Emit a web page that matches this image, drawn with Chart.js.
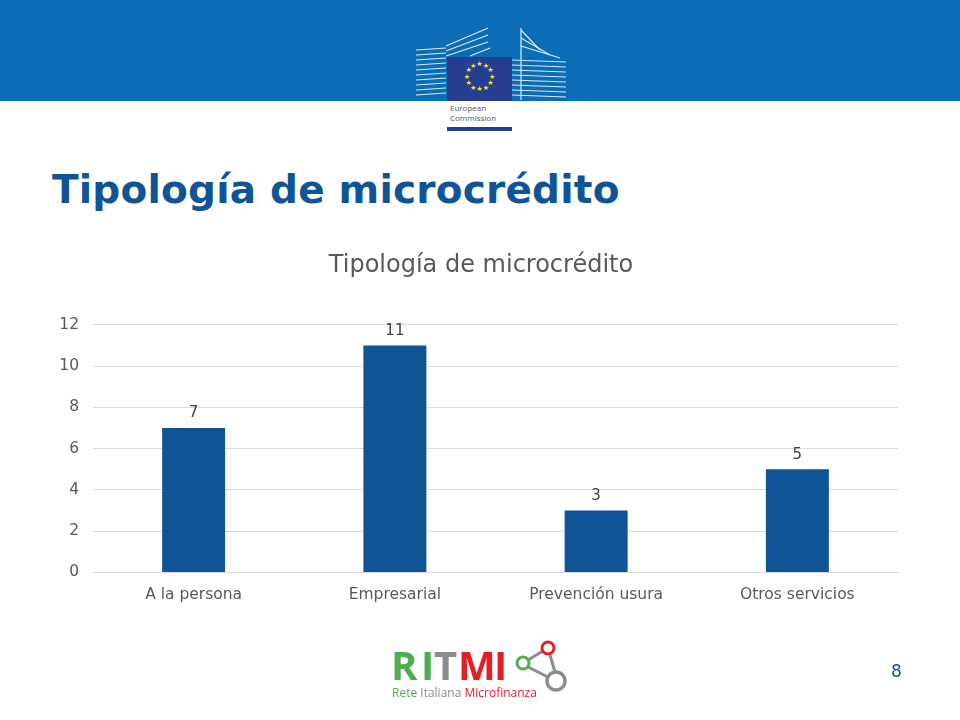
<!DOCTYPE html>
<html>
<head>
<meta charset="utf-8">
<script src="https://cdn.jsdelivr.net/npm/chart.js@4.4.1/dist/chart.umd.min.js"></script>
<style>
    html, body { margin: 0; padding: 0; background: #fff; }
    body { width: 960px; height: 720px; position: relative; overflow: hidden; font-family: "DejaVu Sans", Verdana, sans-serif; }
    .band { position: absolute; left: 0; top: 0; width: 960px; height: 101px; background: #0a6db5; }
    .eu { position: absolute; left: 0; top: 0; }
    .slide-title { position: absolute; left: 52px; top: 167px; margin: 0; font-size: 39px; font-weight: bold; color: #0f5496; letter-spacing: 0.2px; }
    .chart-box { position: absolute; left: 40px; top: 238px; width: 882px; height: 380px; }
    .page-no { position: absolute; left: 891px; top: 661px; font-size: 17px; color: #0f5496; }
    .ritmi { position: absolute; left: 0; top: 0; }
</style>
</head>
<body>
<div class="band"></div>
<svg class="eu" width="960" height="140">
    <g stroke="#ffffff" stroke-width="1.2" opacity="0.85">
        <line x1="416" y1="50" x2="446" y2="48"/>
        <line x1="416" y1="55" x2="446" y2="53"/>
        <line x1="416" y1="60" x2="446" y2="58"/>
        <line x1="416" y1="65" x2="446" y2="63"/>
        <line x1="416" y1="70" x2="446" y2="68"/>
        <line x1="416" y1="75" x2="446" y2="73"/>
        <line x1="416" y1="80" x2="446" y2="78"/>
        <line x1="416" y1="85" x2="446" y2="83"/>
        <line x1="416" y1="90" x2="446" y2="88"/>
        <line x1="416" y1="95" x2="446" y2="93"/>
        <line x1="446" y1="46" x2="488" y2="28"/>
        <line x1="446" y1="51" x2="488" y2="35"/>
        <line x1="446" y1="56" x2="488" y2="42"/>
        <line x1="470" y1="56" x2="490" y2="48"/>
        <line x1="512" y1="60" x2="566" y2="62"/>
        <line x1="512" y1="65" x2="566" y2="67"/>
        <line x1="512" y1="70" x2="566" y2="72"/>
        <line x1="512" y1="75" x2="566" y2="77"/>
        <line x1="512" y1="80" x2="566" y2="82"/>
        <line x1="512" y1="85" x2="566" y2="87"/>
        <line x1="512" y1="90" x2="566" y2="92"/>
        <line x1="512" y1="95" x2="566" y2="97"/>
        <line x1="521" y1="28" x2="521" y2="100"/>
        <line x1="521" y1="30" x2="540" y2="50"/>
        <line x1="521" y1="38" x2="550" y2="55"/>
        <line x1="521" y1="46" x2="560" y2="58"/>
    </g>
    <rect x="447" y="57" width="65" height="44" fill="#253e92"/>
    <g fill="#ffed00" font-size="7" text-anchor="middle" font-family="DejaVu Sans">
        <text x="479.5" y="66">★</text>
        <text x="485.8" y="67.7">★</text>
        <text x="490.4" y="72.3">★</text>
        <text x="492.1" y="78.6">★</text>
        <text x="490.4" y="84.9">★</text>
        <text x="485.8" y="89.5">★</text>
        <text x="479.5" y="91.2">★</text>
        <text x="473.2" y="89.5">★</text>
        <text x="468.6" y="84.9">★</text>
        <text x="466.9" y="78.6">★</text>
        <text x="468.6" y="72.3">★</text>
        <text x="473.2" y="67.7">★</text>
    </g>
    <text x="450" y="111" font-size="8" fill="#555" font-family="Open Sans, DejaVu Sans">European</text>
    <text x="450" y="121" font-size="8" fill="#555" font-family="Open Sans, DejaVu Sans">Commission</text>
    <rect x="447" y="127" width="65" height="4" fill="#253e92"/>
</svg>

<h1 class="slide-title">Tipología de microcrédito</h1>

<div class="chart-box"><canvas id="chart"></canvas></div>

<svg class="ritmi" width="960" height="720" style="pointer-events:none">
    <g font-family="Open Sans, DejaVu Sans" font-weight="bold" font-size="40">
        <text x="391" y="680" fill="#4cae4f">R</text>
        <text x="421" y="680" fill="#4cae4f">I</text>
        <text x="434" y="680" fill="#8c8c8c">T</text>
        <text x="458" y="680" fill="#e31e24">M</text>
        <text x="494" y="680" fill="#e31e24">I</text>
    </g>
    <g font-family="Open Sans, DejaVu Sans" font-size="12">
        <text x="392" y="697"><tspan fill="#4cae4f">Rete </tspan><tspan fill="#8c8c8c">Italiana </tspan><tspan fill="#e31e24">Microfinanza</tspan></text>
    </g>
    <g stroke="#8c8c8c" stroke-width="3" fill="none">
        <line x1="528" y1="660" x2="543" y2="651"/>
        <line x1="550" y1="655" x2="555" y2="672"/>
        <line x1="528" y1="667" x2="548" y2="677"/>
    </g>
    <circle cx="523" cy="663" r="6" stroke="#4cae4f" stroke-width="3" fill="#fff"/>
    <circle cx="548" cy="648" r="6" stroke="#e31e24" stroke-width="3" fill="#fff"/>
    <circle cx="556" cy="681" r="9" stroke="#8c8c8c" stroke-width="3.5" fill="#fff"/>
</svg>

<div class="page-no">8</div>

<script>
const categories = ['A la persona', 'Empresarial', 'Prevención usura', 'Otros servicios'];
const values = [7, 11, 3, 5];
const chartTitle = 'Tipología de microcrédito';

const font = "'DejaVu Sans', Verdana, sans-serif";

// etiquetas de valor encima de cada barra
const barLabels = {
    id: 'barLabels',
    afterDatasetsDraw(chart) {
        const ctx = chart.ctx;
        const meta = chart.getDatasetMeta(0);
        ctx.save();
        ctx.font = '15px ' + font;
        ctx.fillStyle = '#404040';
        ctx.textAlign = 'center';
        ctx.textBaseline = 'bottom';
        meta.data.forEach((bar, i) => {
            ctx.fillText(String(values[i]), bar.x, bar.y - 7);
        });
        ctx.restore();
    }
};

new Chart(document.getElementById('chart'), {
    type: 'bar',
    data: {
        labels: categories,
        datasets: [{
            data: values,
            backgroundColor: '#0f5496',
            categoryPercentage: 1,
            barPercentage: 0.313
        }]
    },
    options: {
        responsive: true,
        maintainAspectRatio: false,
        animation: false,
        devicePixelRatio: 1,
        layout: { padding: { left: 0, right: 0, top: 0, bottom: 9 } },
        plugins: {
            legend: { display: false },
            tooltip: { enabled: false },
            title: {
                display: true,
                text: chartTitle,
                color: '#595959',
                font: { family: font, size: 24, weight: 'normal' },
                padding: { top: 13, bottom: 45 }
            }
        },
        scales: {
            x: {
                grid: { display: false },
                border: { display: true, color: '#d9d9d9' },
                ticks: {
                    color: '#595959',
                    font: { family: font, size: 15.5 },
                    padding: 5
                }
            },
            y: {
                min: 0,
                max: 12,
                afterFit: (axis) => { axis.width = 53; },
                ticks: {
                    stepSize: 2,
                    color: '#595959',
                    font: { family: font, size: 15.5 },
                    padding: 14
                },
                grid: { color: '#d9d9d9', drawTicks: false },
                border: { display: false }
            },
            // eje vacío a la derecha: solo reserva margen
            yRight: {
                position: 'right',
                min: 0,
                max: 12,
                afterFit: (axis) => { axis.width = 24; },
                ticks: { display: false },
                grid: { display: false },
                border: { display: false }
            }
        }
    },
    plugins: [barLabels]
});
</script>
</body>
</html>
